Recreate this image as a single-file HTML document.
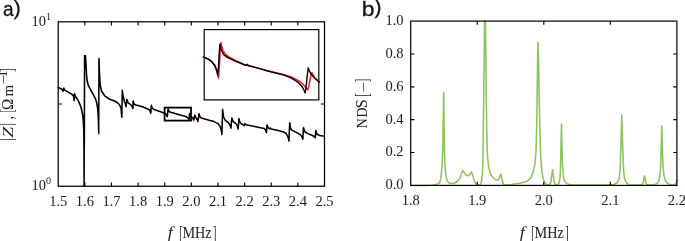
<!DOCTYPE html>
<html lang="en"><head><meta charset="utf-8"><title>Impedance and NDS plots</title>
<style>
html,body{margin:0;padding:0;background:#fff;}
body{width:685px;height:241px;overflow:hidden;}
svg{display:block;}
.s{font-family:"Liberation Serif","DejaVu Serif",serif;font-size:14.5px;fill:#1c1c1c;}
.p{font-family:"Liberation Sans","DejaVu Sans",sans-serif;font-size:21px;fill:#111;stroke:#111;stroke-width:0.3px;}
.i{font-style:italic;}
.ax{stroke:#000;fill:none;}
</style></head><body>
<svg width="685" height="241" viewBox="0 0 685 241">
<rect x="0" y="0" width="685" height="241" fill="#fff"/>
<path d="M62.6 91.1L63.0 91.7L63.4 90.5M63.4 88.9L63.8 87.7L64.2 88.5M73.8 98.9L74.2 101.1L74.4 98.3M74.4 96.2L74.6 93.4L75.0 94.4M98.6 131.1L98.7 134.1L98.7 131.1M125.8 106.3L126.0 107.2L126.4 104.2M126.4 102.0L126.8 99.0L127.4 100.5M132.5 108.3L132.8 109.1L133.0 106.1M133.0 103.7L133.2 100.7L133.7 102.0M150.3 112.6L150.7 113.7L151.0 110.7M151.1 107.9L151.4 104.9L151.8 106.2M166.9 116.2L167.3 117.1L167.6 114.1M167.8 111.7L168.1 108.7L168.5 109.6M188.7 119.8L189.1 120.3L189.3 117.7M189.4 115.7L189.6 113.1L190.1 114.4M193.1 119.6L193.7 120.7L194.2 118.7M194.3 116.8L194.8 114.8L195.2 115.7M197.3 120.9L197.8 122.0L198.3 119.0M198.5 116.5L199.0 113.5L199.6 115.0M230.5 127.3L230.9 128.6L231.2 125.6M231.6 120.6L231.9 117.6L232.5 119.1M237.7 128.1L238.1 129.4L238.4 126.4M238.7 121.3L239.0 118.3L239.4 119.8M266.0 132.0L266.4 133.1L266.7 130.1M266.8 127.6L267.1 124.6L267.6 125.8M288.7 140.4L288.9 141.4L289.0 138.4M289.6 125.4L289.7 122.4L290.1 124.8M302.4 138.7L302.8 139.6L303.0 136.6M303.3 130.2L303.5 127.2L303.9 128.6M314.6 137.8L315.3 138.3L315.5 135.3M315.6 133.2L315.8 130.2L316.4 131.7" fill="none" stroke="#ed1c24" stroke-width="1.1" stroke-linejoin="round"/>
<polyline points="57.8,87.1 62.2,89.5 63.0,90.9 63.8,88.3 64.6,90.0 65.1,90.4 71.6,94.2 73.4,95.5 74.2,100.3 74.6,94.0 75.4,96.3 75.9,97.0 78.2,100.6 80.0,104.6 81.5,109.3 82.6,114.5 83.3,121.0 83.8,131.0 84.0,150.0 84.1,186.2 84.4,120.0 84.6,55.6 85.5,55.9 86.0,65.0 86.5,74.0 87.0,80.0 88.2,85.2 90.7,90.0 94.0,95.8 95.6,99.2 96.6,102.5 97.5,107.5 98.1,114.0 98.5,124.0 98.7,132.9 99.0,58.6 99.5,74.0 100.1,84.5 101.4,90.8 104.7,95.8 109.7,99.3 114.0,100.8 117.3,102.5 119.0,104.2 119.8,105.4 121.0,108.2 121.8,117.3 122.3,90.3 123.1,96.3 124.4,101.3 125.5,104.5 126.0,106.4 126.8,99.6 128.1,102.9 130.6,104.6 132.2,106.6 132.8,108.3 133.2,101.3 134.3,104.2 136.0,105.0 138.9,105.8 143.2,107.0 148.3,109.2 149.9,110.4 150.7,112.9 151.4,105.5 152.4,108.4 154.1,109.6 160.7,111.7 164.0,112.9 166.3,114.3 167.3,116.3 168.1,109.3 169.0,111.3 170.0,112.0 176.6,113.9 184.0,115.9 186.6,117.0 188.3,118.3 189.1,119.5 189.6,113.7 190.8,116.6 192.4,117.4 193.7,119.9 194.8,115.4 195.7,117.4 196.6,118.7 197.8,121.2 199.0,114.1 200.3,117.4 202.0,118.2 204.9,119.1 210.0,120.5 214.0,121.6 218.0,123.6 220.0,126.2 221.3,130.2 221.9,134.6 222.6,109.6 223.6,117.0 225.3,120.3 227.9,122.3 229.9,124.9 230.9,127.8 231.9,118.2 233.3,121.6 235.9,123.6 237.2,125.6 238.1,128.6 239.0,118.9 239.9,122.3 241.0,123.6 242.6,124.7 244.2,125.7 244.8,123.5 245.9,124.7 249.8,125.6 258.3,127.3 264.2,128.6 265.6,129.8 266.4,132.3 267.1,125.2 268.2,127.9 269.7,128.8 270.4,128.0 271.0,128.9 278.2,130.6 283.5,131.9 286.1,133.5 287.7,136.5 288.5,138.4 288.9,140.6 289.7,123.0 290.6,128.3 291.4,129.6 292.6,130.6 297.2,132.9 300.6,134.9 301.9,136.9 302.8,138.8 303.5,127.8 304.4,130.8 305.2,132.0 307.9,133.6 311.8,135.2 313.8,136.3 315.3,137.5 315.8,130.8 317.1,134.2 319.8,135.6 324.4,136.2" fill="none" stroke="#000" stroke-width="1.55" stroke-linejoin="round"/>
<rect x="164.6" y="107.6" width="26.4" height="13.0" fill="none" stroke="#000" stroke-width="1.8"/>
<rect x="204.2" y="29.6" width="114.6" height="70.3" fill="#fff" stroke="#000" stroke-width="1.2"/>
<polyline points="202.5,56.6 208.3,59.0 211.6,61.4 214.9,65.2 216.6,69.5 217.7,74.0 218.5,78.1 219.4,66.0 220.2,50.0 220.9,42.5 222.0,47.0 223.1,51.0 225.4,54.1 228.8,56.8 236.5,61.0 244.8,64.8 255.0,67.2 266.6,70.4 283.2,74.4 291.5,77.0 299.8,81.3 303.0,84.3 305.7,87.4 307.0,89.0 307.7,89.9 308.6,87.0 310.0,80.0 311.0,75.0 311.8,72.5 313.0,75.0 314.8,78.0 319.8,82.4" fill="none" stroke="#ed1c24" stroke-width="1.5" stroke-linejoin="round"/>
<polyline points="203.3,56.9 208.3,59.1 211.6,61.6 214.9,65.7 216.6,70.7 217.7,75.2 218.4,68.0 219.1,55.0 219.9,44.1 220.6,47.5 221.5,50.5 224.0,54.9 228.2,57.9 236.5,61.6 244.8,65.0 246.2,65.2 247.2,64.2 248.4,65.6 255.0,67.4 266.6,70.7 283.2,74.9 291.5,78.2 298.1,82.3 302.2,86.8 304.0,90.0 305.2,92.9 306.0,88.0 307.0,78.0 308.2,68.0 309.3,70.8 310.7,73.5 314.8,78.3 319.8,82.4" fill="none" stroke="#000" stroke-width="1.4" stroke-linejoin="round"/>
<rect class="ax" x="58.20" y="21.80" width="266.30" height="164.45" stroke-width="1.25"/>
<path class="ax" d="M84.83 186.25v-3.7M84.83 21.80v3.7M111.46 186.25v-3.7M111.46 21.80v3.7M138.09 186.25v-3.7M138.09 21.80v3.7M164.72 186.25v-3.7M164.72 21.80v3.7M191.35 186.25v-3.7M191.35 21.80v3.7M217.98 186.25v-3.7M217.98 21.80v3.7M244.61 186.25v-3.7M244.61 21.80v3.7M271.24 186.25v-3.7M271.24 21.80v3.7M297.87 186.25v-3.7M297.87 21.80v3.7M58.20 104.03h3.7M324.50 104.03h-3.7" stroke-width="1.15"/>
<text class="s" x="58.20" y="205.7" text-anchor="middle">1.5</text>
<text class="s" x="84.83" y="205.7" text-anchor="middle">1.6</text>
<text class="s" x="111.46" y="205.7" text-anchor="middle">1.7</text>
<text class="s" x="138.09" y="205.7" text-anchor="middle">1.8</text>
<text class="s" x="164.72" y="205.7" text-anchor="middle">1.9</text>
<text class="s" x="191.35" y="205.7" text-anchor="middle">2.0</text>
<text class="s" x="217.98" y="205.7" text-anchor="middle">2.1</text>
<text class="s" x="244.61" y="205.7" text-anchor="middle">2.2</text>
<text class="s" x="271.24" y="205.7" text-anchor="middle">2.3</text>
<text class="s" x="297.87" y="205.7" text-anchor="middle">2.4</text>
<text class="s" x="324.50" y="205.7" text-anchor="middle">2.5</text>
<text class="s" x="31.4" y="26.1">10<tspan dy="-5.8" font-size="10.2">1</tspan></text>
<text class="s" x="31.4" y="190">10<tspan dy="-5.8" font-size="10.2">0</tspan></text>
<g transform="translate(0.00,237.9)">
<text class="s i" font-size="14.5" transform="translate(167.67,0.07) scale(1.218,1.185)">f</text>
<text class="s" font-size="14.5" transform="translate(179.18,1.08) scale(0.677,1.300)">[</text>
<text class="s" font-size="14.5" transform="translate(182.47,0.00) scale(0.981,1.084)">MHz</text>
<text class="s" font-size="14.5" transform="translate(213.05,1.08) scale(0.708,1.300)">]</text>
</g>
<g transform="translate(12.8,0) rotate(-90)">
<text class="s" font-size="14.5" transform="translate(-141.04,-0.43) scale(1.000,1.130)">|</text>
<text class="s i" font-size="14.5" transform="translate(-137.76,-0.10) scale(1.363,1.074)">Z</text>
<text class="s" font-size="14.5" transform="translate(-125.84,-0.43) scale(1.000,1.130)">|</text>
<text class="s" font-size="14.5" transform="translate(-119.46,0.02) scale(0.988,1.280)">,</text>
<text class="s" font-size="14.5" transform="translate(-112.45,0.69) scale(0.615,1.242)">[</text>
<text class="s" font-size="14.5" transform="translate(-110.08,0.00) scale(1.038,1.119)">Ω</text>
<text class="s" font-size="14.5" transform="translate(-96.52,0.00) scale(1.033,1.028)">m</text>
<text class="s" font-size="10.2" transform="translate(-84.29,-5.07) scale(1.179,1.000)">−</text>
<text class="s" font-size="10.2" transform="translate(-77.47,-6.20) scale(0.993,1.007)">1</text>
<text class="s" font-size="14.5" transform="translate(-71.64,0.69) scale(0.677,1.242)">]</text>
</g>
<text class="p" y="15.8"><tspan x="2.9" textLength="10.6" lengthAdjust="spacingAndGlyphs">a</tspan><tspan x="13.8" dy="-1.3">)</tspan></text>
<polyline points="410.7,185.5 425.0,185.5 432.0,185.3 436.8,184.6 438.4,183.8 439.6,182.4 440.4,180.4 441.0,176.8 441.6,170.0 442.2,163.7 442.8,150.0 443.2,125.0 443.7,92.4 444.1,125.0 444.5,150.0 444.9,164.0 445.5,172.5 446.2,177.5 447.5,181.4 449.5,183.2 452.0,183.5 454.4,183.0 456.9,181.8 458.9,179.8 460.4,176.9 461.4,173.9 462.1,171.8 462.9,170.6 463.7,171.8 464.9,173.7 466.4,175.1 467.7,175.7 469.4,174.9 470.6,173.4 471.4,171.8 472.0,173.0 472.8,175.9 473.8,179.4 474.8,181.9 475.8,183.7 476.8,184.7 478.8,185.1 480.3,184.6 481.2,182.8 481.9,179.0 482.5,172.0 482.9,160.0 483.3,130.0 483.9,80.0 484.6,21.1 485.4,21.1 486.1,80.0 486.7,130.0 487.2,150.0 487.8,160.0 488.9,168.2 490.6,174.0 493.1,177.9 496.4,179.9 498.0,180.1 499.1,178.6 500.0,176.0 500.8,174.0 501.4,176.0 502.0,179.0 503.3,184.0 504.1,185.1 511.6,184.5 519.9,183.2 526.5,181.5 530.7,178.2 533.1,172.4 534.8,164.9 536.0,152.0 536.6,130.0 537.1,100.0 537.6,60.0 538.0,42.2 538.5,60.0 539.2,100.0 539.9,130.0 540.5,152.0 541.3,165.0 542.0,172.0 543.1,178.5 544.8,182.8 546.4,184.5 548.9,185.0 550.4,183.6 551.2,180.0 551.8,174.9 552.5,169.7 553.2,174.9 553.9,180.0 554.8,183.8 556.6,185.0 558.4,184.2 559.3,182.4 560.1,176.0 560.6,165.0 561.0,145.0 561.5,124.1 561.9,145.0 562.5,165.0 563.2,174.0 563.9,178.5 564.9,181.5 567.4,184.0 571.5,184.8 590.0,185.1 605.0,185.1 614.1,184.5 617.4,182.4 619.1,178.5 620.1,170.0 620.8,150.0 621.3,130.0 621.8,114.9 622.2,130.0 622.8,150.0 623.5,168.0 624.4,177.5 625.5,181.3 626.9,183.4 629.9,184.7 640.0,185.1 642.3,184.6 643.3,182.5 643.9,178.5 644.5,175.7 645.1,178.5 645.8,182.5 646.8,184.6 649.0,185.1 654.0,184.8 656.4,184.0 658.0,182.4 659.0,180.3 659.9,176.0 660.6,168.0 661.1,150.0 661.8,125.7 662.4,150.0 663.0,166.0 663.8,174.5 664.8,179.0 666.5,182.6 669.8,184.5 673.9,184.8 675.6,184.0 676.5,182.0 677.2,179.3" fill="none" stroke="#8cc45a" stroke-width="1.55" stroke-linejoin="round"/>
<rect class="ax" x="410.70" y="21.10" width="266.20" height="164.30" stroke-width="1.2"/>
<path class="ax" d="M477.25 185.40v-3.7M477.25 21.10v3.7M543.80 185.40v-3.7M543.80 21.10v3.7M610.35 185.40v-3.7M610.35 21.10v3.7M410.70 152.54h3.7M676.90 152.54h-3.7M410.70 119.68h3.7M676.90 119.68h-3.7M410.70 86.82h3.7M676.90 86.82h-3.7M410.70 53.96h3.7M676.90 53.96h-3.7" stroke-width="1.15"/>
<text class="s" x="410.70" y="205.0" text-anchor="middle">1.8</text>
<text class="s" x="477.25" y="205.0" text-anchor="middle">1.9</text>
<text class="s" x="543.80" y="205.0" text-anchor="middle">2.0</text>
<text class="s" x="610.35" y="205.0" text-anchor="middle">2.1</text>
<text class="s" x="676.90" y="205.0" text-anchor="middle">2.2</text>
<text class="s" x="403.6" y="189.30" text-anchor="end">0.0</text>
<text class="s" x="403.6" y="156.44" text-anchor="end">0.2</text>
<text class="s" x="403.6" y="123.58" text-anchor="end">0.4</text>
<text class="s" x="403.6" y="90.72" text-anchor="end">0.6</text>
<text class="s" x="403.6" y="57.86" text-anchor="end">0.8</text>
<text class="s" x="403.6" y="25.00" text-anchor="end">1.0</text>
<g transform="translate(352.10,237.9)">
<text class="s i" font-size="14.5" transform="translate(167.67,0.07) scale(1.218,1.185)">f</text>
<text class="s" font-size="14.5" transform="translate(179.18,1.08) scale(0.677,1.300)">[</text>
<text class="s" font-size="14.5" transform="translate(182.47,0.00) scale(0.981,1.084)">MHz</text>
<text class="s" font-size="14.5" transform="translate(213.05,1.08) scale(0.708,1.300)">]</text>
</g>
<g transform="translate(366.7,0) rotate(-90)">
<text class="s" font-size="14.5" transform="translate(-128.53,0.00) scale(0.991,1.074)">N</text>
<text class="s" font-size="14.5" transform="translate(-117.42,0.00) scale(0.954,1.074)">D</text>
<text class="s" font-size="14.5" transform="translate(-108.22,0.16) scale(1.115,1.125)">S</text>
<text class="s" font-size="14.5" transform="translate(-96.78,1.15) scale(0.738,1.267)">[</text>
<text class="s" font-size="14.5" transform="translate(-92.67,0.94) scale(1.289,1.000)">−</text>
<text class="s" font-size="14.5" transform="translate(-82.17,1.15) scale(0.738,1.267)">]</text>
</g>
<text class="p" y="15.8"><tspan x="361.7" textLength="12.7" lengthAdjust="spacingAndGlyphs">b</tspan><tspan x="374.5" dy="-1.5">)</tspan></text>
</svg>
</body></html>
